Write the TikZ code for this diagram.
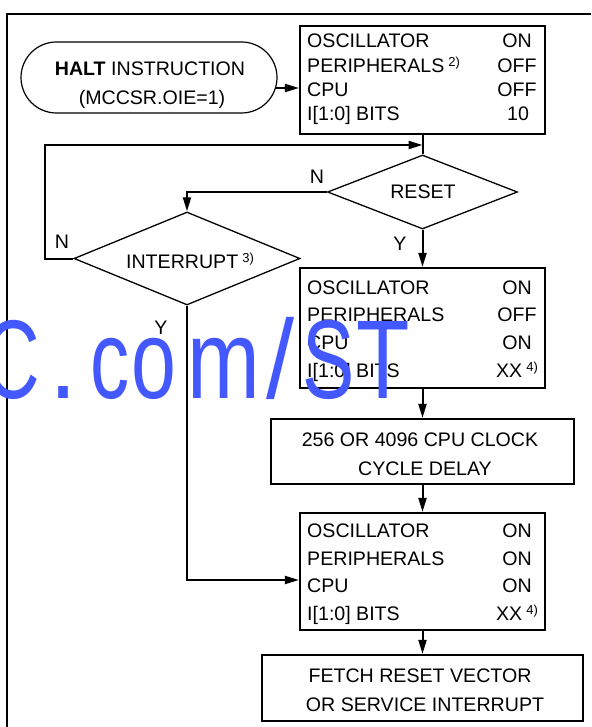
\documentclass[tikz,border=0pt]{standalone}
\usepackage{fontspec}
\setmainfont{Liberation Sans}
\usetikzlibrary{arrows.meta,shapes.geometric,calc}
\definecolor{wmblue}{RGB}{68,88,255}
\newcommand\fnm[1]{\hspace{4pt}\raisebox{6pt}{\fontsize{13}{13}\selectfont #1}}
\begin{document}
\begin{tikzpicture}[x=1pt,y=-1pt,
  txt/.style={font=\fontsize{19.6}{23}\selectfont, inner sep=0pt},
  lab/.style={txt, anchor=base west},
  val/.style={txt, anchor=base},
  statbox/.style={draw, line width=2.2pt, minimum width=245pt, inner sep=0pt},
  dmd/.style={draw, diamond, line width=1.3pt, inner sep=0pt},
  conn/.style={line width=2pt},
  arr/.style={conn, -{Triangle[length=14pt,width=8pt]}},
  wm/.style={text=wmblue, font=\fontsize{112}{112}\selectfont, inner sep=0pt, anchor=base}]
\useasboundingbox (0,0) rectangle (591,727);
\fill[white] (0,0) rectangle (591,727);
\draw[line width=2pt] (591,14) -- (7,14) -- (7,727);

% terminal
\node[draw, rounded corners=35.5pt, line width=1.2pt, minimum width=256pt, minimum height=71pt, inner sep=0pt] (halt) at (149,77.5) {};
\node[txt, anchor=base] (halt1) at (150,76) {\textbf{HALT} INSTRUCTION};
\node[txt, anchor=base] (halt2) at (152,104.5) {(MCCSR.OIE=1)};

% status box 1
\node[statbox, minimum height=108pt] (box1) at (422.5,80) {};
\node[lab] (b1l1) at (307,47.5) {OSCILLATOR};
\node[lab] (b1l2) at (307,72.5) {PERIPHERALS\fnm{2)}};
\node[lab] (b1l3) at (307,97) {CPU};
\node[lab] (b1l4) at (307,121) {I[1:0] BITS};
\node[val] (b1v1) at (517,47.5) {ON};
\node[val] (b1v2) at (517,72.5) {OFF};
\node[val] (b1v3) at (517,97) {OFF};
\node[val] (b1v4) at (518,121) {10};

% decisions
\node[dmd, minimum width=190pt, minimum height=74pt] (reset) at (422.5,192) {};
\node[txt, anchor=base] (resettxt) at (423,199) {RESET};
\node[dmd, minimum width=226pt, minimum height=93pt] (intr) at (187,258.5) {};
\node[txt, anchor=base] (intrtxt) at (190,268) {INTERRUPT\fnm{3)}};

% status box 2
\node[statbox, minimum height=120pt] (box2) at (422.5,328) {};
\node[lab] (b2l1) at (307,294.5) {OSCILLATOR};
\node[lab] (b2l2) at (307,321.5) {PERIPHERALS};
\node[lab] (b2l3) at (307,349.5) {CPU};
\node[lab] (b2l4) at (307,377.5) {I[1:0] BITS};
\node[val] (b2v1) at (517,294.5) {ON};
\node[val] (b2v2) at (517,321.5) {OFF};
\node[val] (b2v3) at (517,349.5) {ON};
\node[val] (b2v4) at (517,377.5) {XX\fnm{4)}};

% delay box
\node[statbox, minimum width=303pt, minimum height=65pt] (delay) at (422.5,451.5) {};
\node[txt, anchor=base] (d1) at (420,446) {256 OR 4096 CPU CLOCK};
\node[txt, anchor=base] (d2) at (425,475) {CYCLE DELAY};

% status box 3
\node[statbox, minimum height=117pt] (box3) at (422.5,571.5) {};
\node[lab] (b3l1) at (307,537.5) {OSCILLATOR};
\node[lab] (b3l2) at (307,565.5) {PERIPHERALS};
\node[lab] (b3l3) at (307,592.5) {CPU};
\node[lab] (b3l4) at (307,620.5) {I[1:0] BITS};
\node[val] (b3v1) at (517,537.5) {ON};
\node[val] (b3v2) at (517,565.5) {ON};
\node[val] (b3v3) at (517,592.5) {ON};
\node[val] (b3v4) at (517,620.5) {XX\fnm{4)}};

% fetch box
\node[statbox, minimum width=321pt, minimum height=66pt] (fetch) at (422.5,688) {};
\node[txt, anchor=base] (f1) at (420,682.5) {FETCH RESET VECTOR};
\node[txt, anchor=base] (f2) at (425,711.5) {OR SERVICE INTERRUPT};

% branch labels
\node[txt, anchor=base] (n1) at (317,184) {N};
\node[txt, anchor=base] (y1) at (400,250) {Y};
\node[txt, anchor=base] (n2) at (62,248) {N};
\node[txt, anchor=base] (y2) at (161,334) {Y};

% connectors
\coordinate (h1) at ([shift={(-1.6,10.5)}]halt.east);
\draw[arr] (h1) -- (h1 -| box1.west);
\draw[conn] (box1.south) -- (reset.north);
\coordinate (lp) at (45,145);
\coordinate (fb) at (box1.south |- lp);
\draw[arr] (intr.west) -| (lp) -- (fb);
\draw[arr] (reset.west) -| (intr.north);
\draw[arr] (reset.south) -- (box2.north);
\draw[arr] (intr.south) |- ([shift={(0,8.5)}]box3.west);
\draw[arr] (box2.south) -- (delay.north);
\draw[arr] (delay.south) -- (box3.north);
\draw[arr] (box3.south) -- (fetch.north);

% watermark
\node[wm] (w1) at (12,398) {\scalebox{0.7}[1]{C}};
\node[wm] (w2) at (64,398) {\scalebox{0.9}[1]{.}};
\node[wm] (w3) at (110,398) {\scalebox{0.7}[1]{c}};
\node[wm] (w4) at (154,398) {\scalebox{0.72}[1]{o}};
\node[wm] (w5) at (224,398) {\scalebox{0.78}[1]{m}};
\node[wm] (w6) at (280,398) {\scalebox{0.9}[1]{/}};
\node[wm] (w7) at (329,398) {\scalebox{0.7}[1]{S}};
\node[wm] (w8) at (383,398) {\scalebox{0.78}[1]{T}};
\end{tikzpicture}
\end{document}
